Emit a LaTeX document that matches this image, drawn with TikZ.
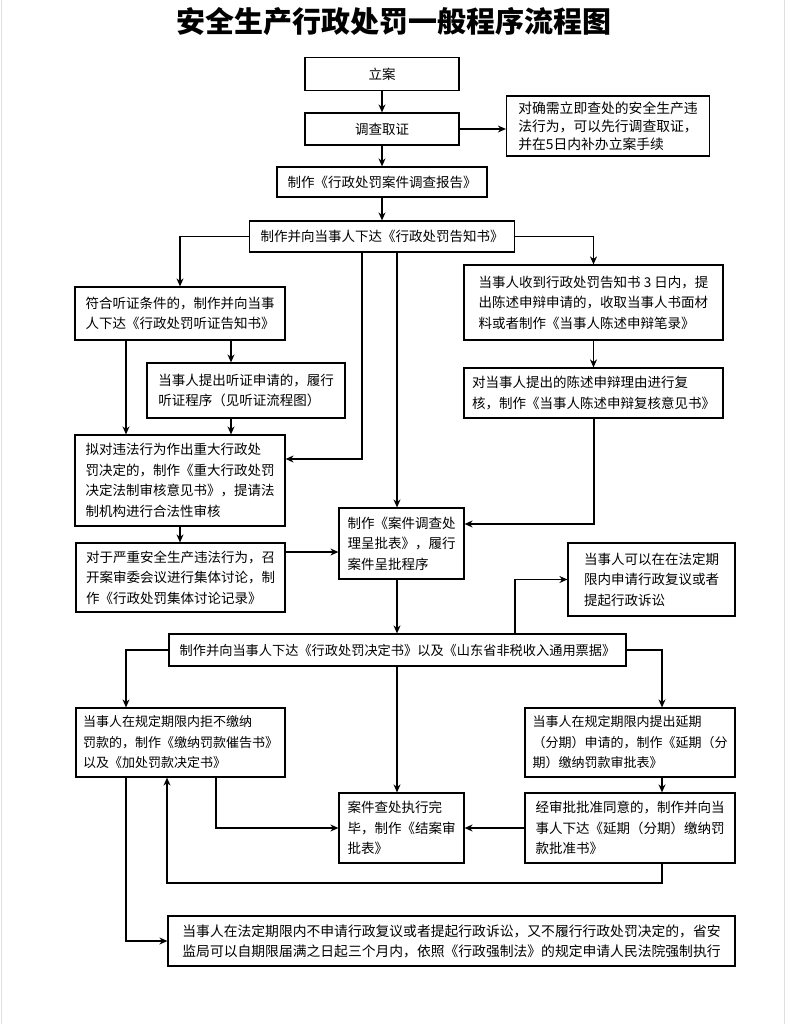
\documentclass[tikz,border=0pt]{standalone}
\usepackage{fontspec}
\usepackage{tikz}
\usetikzlibrary{arrows.meta}
\newfontfamily\cjk{Noto Sans CJK SC}

\begin{document}
\begin{tikzpicture}[
    x=1pt, y=-1pt,
    line width=1.2pt,
    box/.style={draw, inner sep=5pt, align=left, font=\cjk\fontsize{13.5}{20.5}\selectfont},
    narrow/.style={font=\cjk\fontsize{13}{20.5}\selectfont},
    heading/.style={font=\cjk\bfseries\fontsize{29}{32}\selectfont},
    >={Stealth[length=8pt,width=7pt]}
]
    \useasboundingbox (0,0) rectangle (790,1024);
    \draw[gray!25, line width=1pt] (1.5,0) -- (1.5,1024) (784,0) -- (784,1024);

    \node[heading] (title) at (394,22) {安全生产行政处罚一般程序流程图};

    \node[box, minimum width=154pt, minimum height=33pt] (lian) at (382,74) {立案};
    \node[box, minimum width=154pt, minimum height=32pt] (diaocha) at (382,129) {调查取证};
    \node[box, minimum width=203pt, minimum height=60pt, font=\cjk\fontsize{13.8}{18}\selectfont] (buban) at (608,126) {对确需立即查处的安全生产违\\法行为，可以先行调查取证，\\并在5日内补办立案手续};
    \node[box, minimum width=210pt, minimum height=30pt] (baogao) at (382,182) {制作《行政处罚案件调查报告》};
    \node[box, minimum width=265pt, minimum height=31pt] (gaozhi) at (382,236.5) {制作并向当事人下达《行政处罚告知书》};

    \node[box, minimum width=210pt, minimum height=53pt] (tzgz) at (180,313.5) {符合听证条件的，制作并向当事\\人下达《行政处罚听证告知书》};
    \node[box, minimum width=198pt, minimum height=55pt] (tzsq) at (246,390.5) {当事人提出听证申请的，履行\\听证程序（见听证流程图）};
    \node[box, minimum width=259pt, minimum height=75pt] (sbbl) at (593.5,302.5) {当事人收到行政处罚告知书 3 日内，提\\出陈述申辩申请的，收取当事人书面材\\料或者制作《当事人陈述申辩笔录》};
    \node[box, minimum width=259pt, minimum height=50pt] (sbfh) at (593.5,393) {对当事人提出的陈述申辩理由进行复\\核，制作《当事人陈述申辩复核意见书》};
    \node[box, minimum width=210pt, minimum height=91pt] (fzsh) at (180,480.5) {拟对违法行为作出重大行政处\\罚决定的，制作《重大行政处罚\\决定法制审核意见书》，提请法\\制机构进行合法性审核};
    \node[box, minimum width=209pt, minimum height=69pt] (jttl) at (180.5,577.5) {对于严重安全生产违法行为，召\\开案审委会议进行集体讨论，制\\作《行政处罚集体讨论记录》};
    \node[box, minimum width=125pt, minimum height=71pt] (cpb) at (401.5,543.5) {制作《案件调查处\\理呈批表》，履行\\案件呈批程序};
    \node[box, minimum width=167pt, minimum height=73pt] (fyss) at (651.5,579.5) {当事人可以在在法定期\\限内申请行政复议或者\\提起行政诉讼};

    \node[box, minimum width=457pt, minimum height=32pt, font=\cjk\fontsize{13.2}{20}\selectfont] (jds) at (397.5,650) {制作并向当事人下达《行政处罚决定书》以及《山东省非税收入通用票据》};
    \node[box, narrow, minimum width=209pt, minimum height=69pt] (cgs) at (180.5,742.5) {当事人在规定期限内拒不缴纳\\罚款的，制作《缴纳罚款催告书》\\以及《加处罚款决定书》};
    \node[box, narrow, minimum width=210pt, minimum height=69pt] (yqsp) at (630,742.5) {当事人在规定期限内提出延期\\（分期）申请的，制作《延期（分\\期）缴纳罚款审批表》};
    \node[box, minimum width=125pt, minimum height=70pt] (jasp) at (401.5,828) {案件查处执行完\\毕，制作《结案审\\批表》};
    \node[box, minimum width=210pt, minimum height=70pt] (yqpz) at (630,828) {经审批批准同意的，制作并向当\\事人下达《延期（分期）缴纳罚\\款批准书》};
    \node[box, minimum width=567pt, minimum height=50pt, font=\cjk\fontsize{13.8}{20}\selectfont] (qzzx) at (451.5,941) {当事人在法定期限内不申请行政复议或者提起行政诉讼，又不履行行政处罚决定的，省安\\监局可以自期限届满之日起三个月内，依照《行政强制法》的规定申请人民法院强制执行};

    \coordinate (xl) at (126,0);
    \coordinate (xm) at (231,0);
    \coordinate (xu) at (216,0);
    \coordinate (xa) at (362,0);
    \coordinate (xb) at (397,0);
    \coordinate (xs) at (515,0);
    \coordinate (xr) at (594,0);
    \coordinate (xt) at (662,0);
    \coordinate (back) at (167,883);

    \draw[->] (lian) -- (diaocha);
    \draw[->] (diaocha) -- (diaocha -| buban.west);
    \draw[->] (diaocha) -- (baogao);
    \draw[->] (baogao) -- (gaozhi);
    \draw[->] (gaozhi.west) -| (tzgz);
    \draw[->] (gaozhi.east) -| (sbbl);
    \draw[->] (gaozhi.south -| xa) |- ([yshift=21.5pt]fzsh.east);
    \draw[->] (gaozhi.south -| xb) -- (xb |- cpb.north);
    \draw[->] (tzgz.south -| xl) -- (xl |- fzsh.north);
    \draw[->] (tzgz.south -| xm) -- (xm |- tzsq.north);
    \draw[->] (tzsq.south -| xm) -- (xm |- fzsh.north);
    \draw[->] (sbbl) -- (sbfh);
    \draw[->] (sbfh.south -| xr) |- ([yshift=19.5pt]cpb.east);
    \draw[->] (fzsh) -- (fzsh |- jttl.north);
    \draw[->] ([yshift=25.5pt]jttl.east) -- ([yshift=25.5pt]jttl.east -| cpb.west);
    \draw[->] (cpb.south -| xb) -- (xb |- jds.north);
    \draw[->] (jds.north -| xs) |- (fyss.west);
    \draw[->] (jds.west) -| (xl |- cgs.north);
    \draw[->] (jds.east) -| (xt |- yqsp.north);
    \draw[->] (jds.south -| xb) -- (xb |- jasp.north);
    \draw[->] (yqsp.south -| xt) -- (xt |- yqpz.north);
    \draw[->] (yqpz) -- (jasp);
    \draw[->] (cgs.south -| xu) |- (jasp.west);
    \draw[->] (yqpz.south -| xt) |- (back) -- (back |- cgs.south);
    \draw[->] (cgs.south -| xl) |- (qzzx.west);
\end{tikzpicture}
\end{document}
